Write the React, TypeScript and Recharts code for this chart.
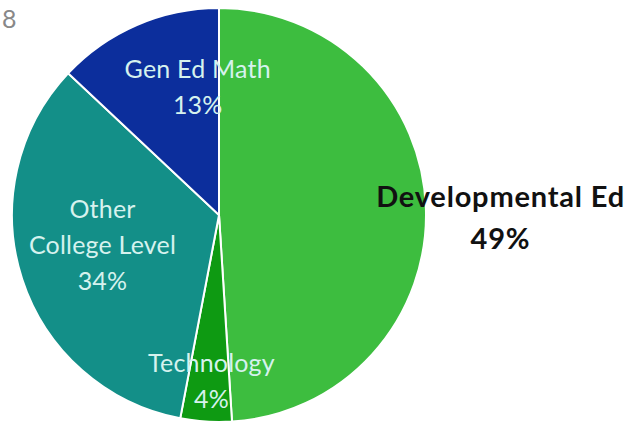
import { PieChart, Pie, Cell } from "recharts";

const categories = ["Developmental Ed", "Technology", "Other College Level", "Gen Ed Math"];
const shares = [49, 4, 34, 13];
const labelLines = [["Developmental Ed"], ["Technology"], ["Other", "College Level"], ["Gen Ed Math"]];
const colors = ["#3DBD3F", "#0E9A12", "#138F88", "#0C2E9C"];

// where each label sits: radius factor and angle nudge (deg)
const labelRadius = [1.36, 0.8, 0.58, 0.63];
const labelAngleShift = [-2, 1, -4, -14];

const data = categories.map((name, i) => ({ name, value: shares[i] }));

const RAD = Math.PI / 180;

const renderLabel = (props: any) => {
  const { cx, cy, midAngle, outerRadius, index, value } = props;
  const a = (midAngle + labelAngleShift[index]) * RAD;
  const r = outerRadius * labelRadius[index];
  const x = cx + r * Math.cos(a);
  const y = cy - r * Math.sin(a);
  const outside = index === 0;
  const lines = [...labelLines[index], `${value}%`];
  const lh = outside ? 42 : 36;
  const top = y - ((lines.length - 1) * lh) / 2;
  return (
    <text
      x={x}
      y={top}
      textAnchor="middle"
      dominantBaseline="central"
      fontFamily="Lato, 'Open Sans', sans-serif"
      fontSize={outside ? 29 : 25}
      fontWeight={outside ? 700 : 400}
      letterSpacing={outside ? 0.8 : 0.2}
      fill={outside ? "#111" : "#D6F2EE"}
    >
      {lines.map((t, k) => (
        <tspan key={k} x={x} dy={k === 0 ? 0 : lh}>
          {t}
        </tspan>
      ))}
    </text>
  );
};

export default function App() {
  return (
    <div style={{ position: "fixed", left: 0, top: 0, width: 637, height: 426, background: "#fff" }}>
      <PieChart width={637} height={426} margin={{ top: 0, right: 0, bottom: 0, left: 0 }}>
        <text x={2} y={18} fontFamily="Lato, sans-serif" fontSize={25} fill="#888" dominantBaseline="central">
          8
        </text>
        <Pie
          data={data}
          dataKey="value"
          nameKey="name"
          cx={219}
          cy={215}
          outerRadius={207}
          startAngle={90}
          endAngle={-270}
          stroke="#fff"
          strokeWidth={2}
          label={renderLabel}
          labelLine={false}
          isAnimationActive={false}
        >
          {data.map((d, i) => (
            <Cell key={d.name} fill={colors[i]} />
          ))}
        </Pie>
      </PieChart>
    </div>
  );
}
